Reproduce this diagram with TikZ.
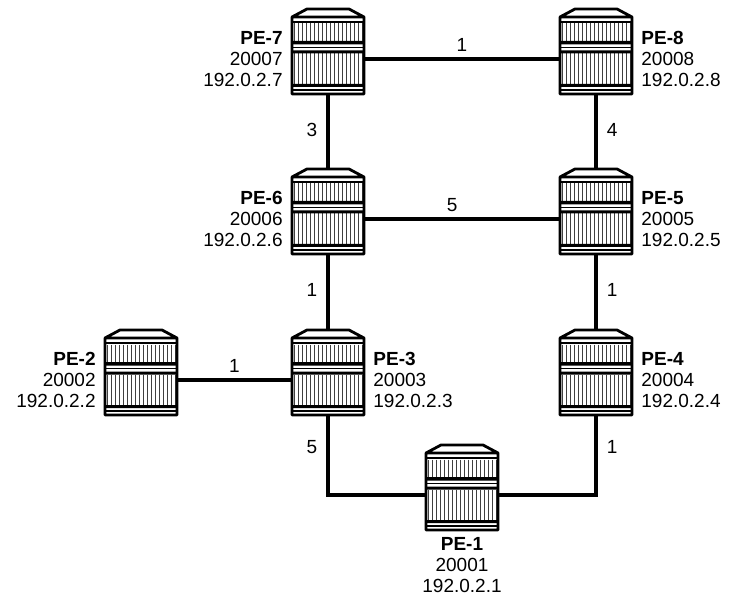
\documentclass[tikz,border=0pt]{standalone}
\usepackage{fontspec}
\setmainfont{Liberation Sans}
\usetikzlibrary{positioning}

\tikzset{
  router/.pic={
    \fill[white] (-36,-42) -- (-21,-50) -- (21,-50) -- (36,-42) -- (36,35) -- (-36,35) -- cycle;
    \foreach \i in {-34,-30,...,34}
      \draw[black!75, line width=1pt] (\i,-35.5) -- (\i,-18) (\i,-5.5) -- (\i,25);
    \fill (-36,-18) rectangle (36,-14.5) (-36,-8.5) rectangle (36,-5.5) (-36,25) rectangle (36,28);
    \draw[line width=1.2pt] (-36,-37) -- (36,-37) (-36,-11.5) -- (36,-11.5) (-36,31) -- (36,31);
    \draw[line width=2.8pt, line join=round] (-36,35) -- (-36,-42) -- (-21,-50) -- (21,-50) -- (36,-42) -- (36,35) -- cycle
      (-36,-42) -- (36,-42);
  }
}

\begin{document}
\begin{tikzpicture}[x=1pt, y=-1pt,
  rtr/.style={minimum width=72pt, minimum height=70pt, inner sep=0pt},
  link/.style={line width=3.5pt},
  lbl/.style={font=\fontsize{19}{21}\selectfont, inner sep=0pt},
  num/.style={font=\fontsize{19}{21}\selectfont, inner sep=0pt}]
\useasboundingbox (0,0) rectangle (731,596);
% routers
\node[rtr] (pe7) at (328,59) {};
\node[rtr] (pe8) at (596,59) {};
\node[rtr] (pe6) at (328,219) {};
\node[rtr] (pe5) at (596,219) {};
\node[rtr] (pe2) at (141,380) {};
\node[rtr] (pe3) at (328,380) {};
\node[rtr] (pe4) at (596,380) {};
\node[rtr] (pe1) at (462,495) {};
% links
\draw[link] (pe7) -- node[num, above=6pt] {1} (pe8);
\draw[link] (pe7) -- node[num, pos=.4, left=9pt] {3} (pe6);
\draw[link] (pe8) -- node[num, pos=.4, right=9pt] {4} (pe5);
\draw[link] (pe6) -- node[num, pos=.45, above=6pt] {5} (pe5);
\draw[link] (pe6) -- node[num, pos=.4, left=9pt] {1} (pe3);
\draw[link] (pe5) -- node[num, pos=.4, right=9pt] {1} (pe4);
\draw[link] (pe2) -- node[num, above=6pt] {1} (pe3);
\draw[link] (pe3) |- node[num, pos=.2, left=9pt] {5} (pe1);
\draw[link] (pe4) |- node[num, pos=.2, right=9pt] {1} (pe1);
% icons
\foreach \n in {pe1,pe2,pe3,pe4,pe5,pe6,pe7,pe8}
  \pic at (\n) {router};
% labels
\node[lbl, align=right, left=9pt of pe7] {\textbf{PE-7}\\20007\\192.0.2.7};
\node[lbl, align=left, right=9pt of pe8] {\textbf{PE-8}\\20008\\192.0.2.8};
\node[lbl, align=right, left=9pt of pe6] {\textbf{PE-6}\\20006\\192.0.2.6};
\node[lbl, align=left, right=9pt of pe5] {\textbf{PE-5}\\20005\\192.0.2.5};
\node[lbl, align=right, left=9pt of pe2] {\textbf{PE-2}\\20002\\192.0.2.2};
\node[lbl, align=left, right=9pt of pe3] {\textbf{PE-3}\\20003\\192.0.2.3};
\node[lbl, align=left, right=9pt of pe4] {\textbf{PE-4}\\20004\\192.0.2.4};
\node[lbl, align=center, below=7pt of pe1] {\textbf{PE-1}\\20001\\192.0.2.1};
\end{tikzpicture}
\end{document}
